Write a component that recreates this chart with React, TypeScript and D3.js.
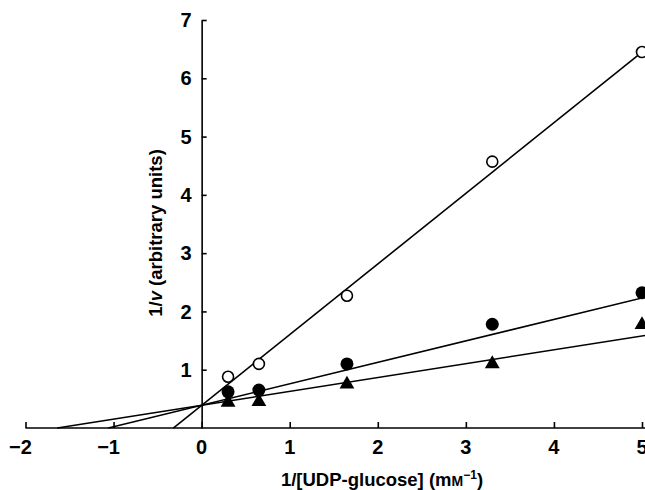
import React, { useEffect, useRef } from "react";
import * as d3 from "d3";

// 1/[UDP-glucose] values (mM^-1)
const xValues = [0.3, 0.65, 1.65, 3.3, 5];
// 1/v for the three series
const openCircles = [0.88, 1.1, 2.27, 4.57, 6.45];
const filledCircles = [0.62, 0.65, 1.1, 1.78, 2.32];
const triangles = [0.44, 0.45, 0.75, 1.1, 1.77];

// fitted lines: [intercept, slope, xStart, xEnd]
const fitLines = [
  [0.39, 1.212, -0.322, 5],
  [0.39, 0.368, -1.06, 5.05],
  [0.39, 0.238, -1.64, 5.05],
];

const xTicks = [-2, -1, 0, 1, 2, 3, 4, 5];
const yTicks = [1, 2, 3, 4, 5, 6, 7];

const W = 645;
const H = 490;

const App = () => {
  const ref = useRef(null);

  useEffect(() => {
    const svg = d3.select(ref.current).attr("width", W).attr("height", H);
    svg.selectAll("*").remove();

    const x = d3.scaleLinear().domain([-2, 5]).range([25.5, 642]);
    const y = d3.scaleLinear().domain([0, 7]).range([428, 20]);

    const font = "'Liberation Sans', Arial, sans-serif";

    // x axis
    const xAxis = d3
      .axisTop(x)
      .tickValues(xTicks)
      .tickSize(6)
      .tickSizeOuter(0)
      .tickFormat(() => "");
    svg
      .append("g")
      .attr("transform", `translate(0, ${y(0)})`)
      .call(xAxis)
      .call((g) => g.select(".domain").attr("d", `M${x(-2)},0H${W}`))
      .call((g) => g.selectAll("line, path").attr("stroke", "#000").attr("stroke-width", 1.6));

    svg
      .append("g")
      .selectAll("text")
      .data(xTicks)
      .join("text")
      .attr("x", (d) => x(d) + (d < 0 ? -5 : 0))
      .attr("y", 454)
      .attr("text-anchor", "middle")
      .attr("font-family", font)
      .attr("font-weight", "bold")
      .attr("font-size", 20)
      .text((d) => (d < 0 ? "\u2212" + Math.abs(d) : d));

    // y axis
    const yAxis = d3
      .axisRight(y)
      .tickValues(yTicks)
      .tickSize(5)
      .tickSizeOuter(0)
      .tickFormat(() => "");
    svg
      .append("g")
      .attr("transform", `translate(${x(0)}, 0)`)
      .call(yAxis)
      .call((g) => g.selectAll("line, path").attr("stroke", "#000").attr("stroke-width", 1.6));

    svg
      .append("g")
      .selectAll("text")
      .data(yTicks)
      .join("text")
      .attr("x", x(0) - 10)
      .attr("y", (d) => y(d))
      .attr("dy", "0.36em")
      .attr("text-anchor", "end")
      .attr("font-family", font)
      .attr("font-weight", "bold")
      .attr("font-size", 20)
      .text((d) => d);

    // axis titles
    const xt = svg
      .append("text")
      .attr("x", 382)
      .attr("y", 486)
      .attr("text-anchor", "middle")
      .attr("font-family", font)
      .attr("font-weight", "bold")
      .attr("font-size", 18.5);
    xt.append("tspan").text("1/[UDP-glucose] (m");
    xt.append("tspan").attr("font-size", 14).text("M");
    xt.append("tspan").attr("font-size", 12).attr("dy", -7).text("\u22121");
    xt.append("tspan").attr("dy", 7).text(")");

    const yt = svg
      .append("text")
      .attr("transform", `translate(162, 233) rotate(-90)`)
      .attr("text-anchor", "middle")
      .attr("font-family", font)
      .attr("font-weight", "bold")
      .attr("font-size", 18.5);
    yt.append("tspan").text("1/");
    yt.append("tspan").attr("font-style", "italic").text("v");
    yt.append("tspan").text(" (arbitrary units)");

    // fitted lines
    const line = d3
      .line()
      .x((d) => x(d[0]))
      .y((d) => y(d[1]));
    svg
      .append("g")
      .selectAll("path")
      .data(fitLines)
      .join("path")
      .attr("d", (l) =>
        line([
          [l[2], l[0] + l[1] * l[2]],
          [l[3], l[0] + l[1] * l[3]],
        ])
      )
      .attr("fill", "none")
      .attr("stroke", "#000")
      .attr("stroke-width", 1.6);

    // markers
    svg
      .append("g")
      .selectAll("circle")
      .data(xValues.map((v, i) => [v, openCircles[i]]))
      .join("circle")
      .attr("cx", (d) => x(d[0]))
      .attr("cy", (d) => y(d[1]))
      .attr("r", 5.5)
      .attr("fill", "#fff")
      .attr("stroke", "#000")
      .attr("stroke-width", 1.6);

    svg
      .append("g")
      .selectAll("circle")
      .data(xValues.map((v, i) => [v, filledCircles[i]]))
      .join("circle")
      .attr("cx", (d) => x(d[0]))
      .attr("cy", (d) => y(d[1]))
      .attr("r", 6.5)
      .attr("fill", "#000");

    const tri = d3.symbol().type(d3.symbolTriangle).size(95);
    svg
      .append("g")
      .selectAll("path")
      .data(xValues.map((v, i) => [v, triangles[i]]))
      .join("path")
      .attr("transform", (d) => `translate(${x(d[0])}, ${y(d[1])})`)
      .attr("d", tri())
      .attr("fill", "#000");
  }, []);

  return (
    <div style={{ position: "absolute", left: 0, top: 0 }}>
      <svg ref={ref} style={{ display: "block", background: "#fff" }}></svg>
    </div>
  );
};

export default App;
